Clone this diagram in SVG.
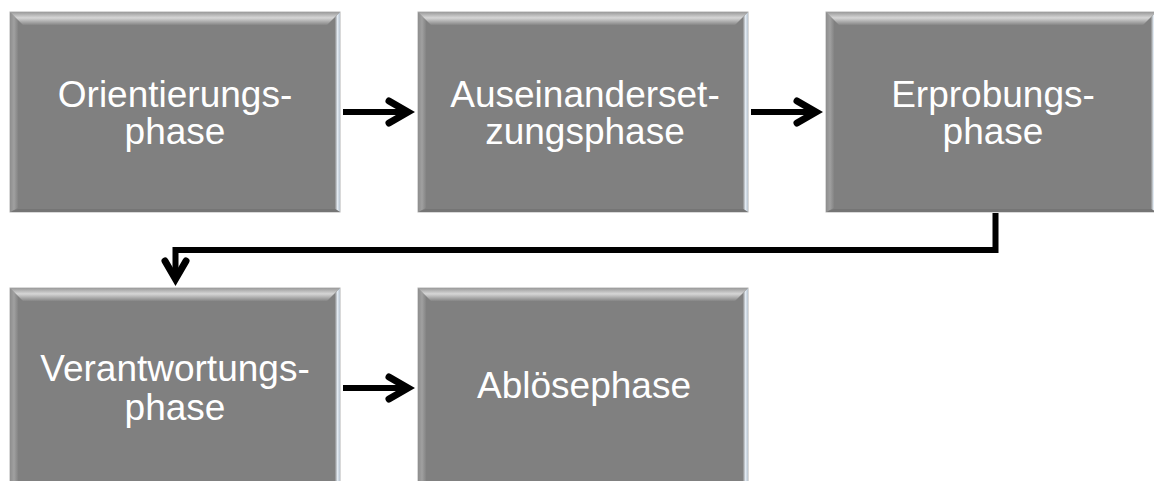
<svg xmlns="http://www.w3.org/2000/svg" xmlns:xlink="http://www.w3.org/1999/xlink" width="1154" height="481" viewBox="0 0 1154 481">
<style>
.lbl{font-family:"Liberation Sans",Arial,sans-serif;font-size:37px;fill:#ffffff;text-anchor:middle}
.conn{fill:none;stroke:#000000;stroke-width:6}
.head{fill:none;stroke:#000000;stroke-width:7;stroke-linejoin:miter;stroke-linecap:round}
</style>
<defs>
<linearGradient id="gTop" x1="0" y1="0" x2="0" y2="1">
<stop offset="0" stop-color="#9a9a9a"/>
<stop offset="0.45" stop-color="#d6d6d6"/>
<stop offset="1" stop-color="#868686"/>
</linearGradient>
<linearGradient id="gLeft" x1="0" y1="0" x2="1" y2="0">
<stop offset="0" stop-color="#8e8e8e"/>
<stop offset="0.5" stop-color="#a0a0a0"/>
<stop offset="1" stop-color="#848484"/>
</linearGradient>
<linearGradient id="gRight" x1="0" y1="0" x2="1" y2="0">
<stop offset="0" stop-color="#8a8a8a"/>
<stop offset="0.5" stop-color="#e2eaf2"/>
<stop offset="1" stop-color="#b8c4d0"/>
</linearGradient>
<g id="box">
<rect x="0" y="0" width="330" height="200" fill="#808080" stroke="#b4b4b4" stroke-width="1"/>
<polygon points="0,0 8,8 8,196 0,200" fill="url(#gLeft)"/>
<polygon points="330,0 325,5 325,197 330,200" fill="url(#gRight)"/>
<polygon points="0,200 8,197 325,197 330,200" fill="#757575"/>
<polygon points="0,0 330,0 317,13 13,13" fill="url(#gTop)"/>
</g>
</defs>
<g id="node-orientierung">
<use xlink:href="#box" transform="translate(10,12)"/>
<text class="lbl" x="175" y="107">Orientierungs-</text>
<text class="lbl" x="175" y="144">phase</text>
</g>
<g id="node-auseinandersetzung">
<use xlink:href="#box" transform="translate(418,12)"/>
<text class="lbl" x="585" y="107">Auseinanderset-</text>
<text class="lbl" x="585" y="144">zungsphase</text>
</g>
<g id="node-erprobung">
<use xlink:href="#box" transform="translate(826,12)"/>
<text class="lbl" x="993" y="107">Erprobungs-</text>
<text class="lbl" x="993" y="144">phase</text>
</g>
<g id="node-verantwortung">
<use xlink:href="#box" transform="translate(10,288)"/>
<text class="lbl" x="175" y="381">Verantwortungs-</text>
<text class="lbl" x="175" y="420">phase</text>
</g>
<g id="node-abloese">
<use xlink:href="#box" transform="translate(418,288)"/>
<text class="lbl" x="584" y="398">Ablösephase</text>
</g>
<g id="connectors">
<line class="conn" x1="343" y1="112" x2="406" y2="112"/>
<polyline class="head" points="389,101 408,112 389,123"/>
<line class="conn" x1="751" y1="112" x2="814" y2="112"/>
<polyline class="head" points="797,101 816,112 797,123"/>
<line class="conn" x1="343" y1="388" x2="406" y2="388"/>
<polyline class="head" points="389,377 408,388 389,399"/>
<path class="conn" d="M995.5,213 V250 H175.5 V276"/>
<polyline class="head" points="165,261 175.5,279 186,261"/>
</g>
</svg>
